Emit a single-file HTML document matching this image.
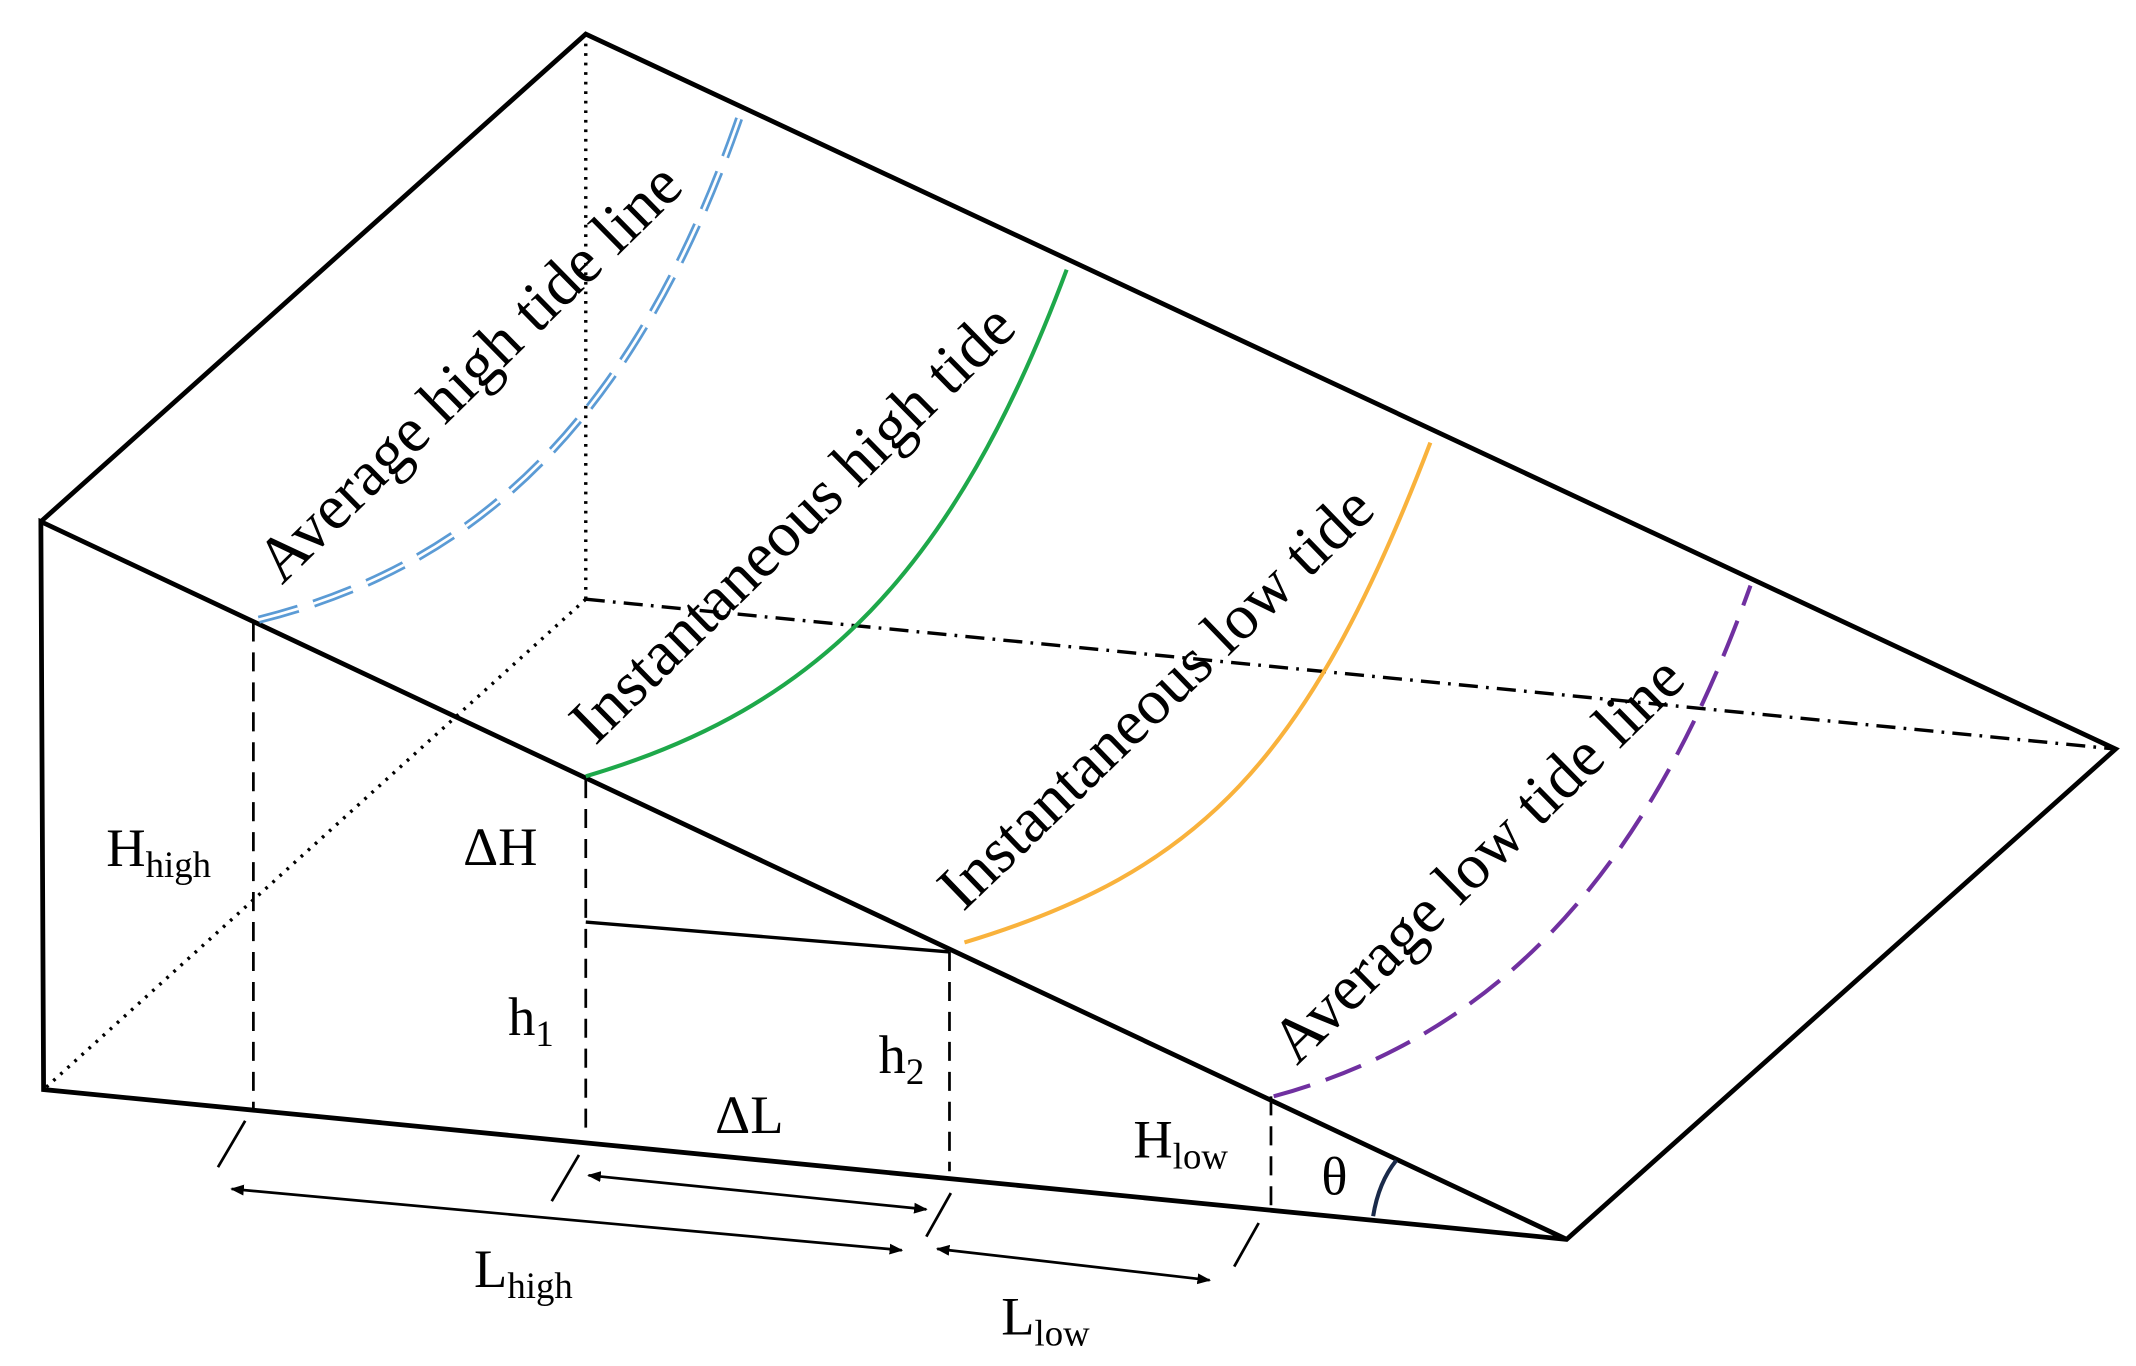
<!DOCTYPE html>
<html><head><meta charset="utf-8"><style>html,body{margin:0;padding:0;background:#fff}svg{display:block}</style></head><body>
<svg width="2136" height="1366" viewBox="0 0 1568 1003" preserveAspectRatio="none" xmlns="http://www.w3.org/2000/svg">
<defs>
<marker id="a" markerWidth="10" markerHeight="8" refX="9" refY="4" orient="auto-start-reverse" markerUnits="userSpaceOnUse"><path d="M0,0 L10,4 L0,8 z" fill="#000"/></marker>
</defs>
<rect width="1568" height="1003" fill="#fff"/>
<g stroke="#000" fill="none" stroke-width="2.5">
<path d="M430,25 L430,440" stroke-dasharray="2,5" stroke-width="2.5"/>
<path d="M430,440 L32,800" stroke-dasharray="2,5" stroke-width="2.5"/>
<path d="M430,440 L1553,550" stroke-dasharray="14,6,2,6" stroke-width="2.5"/>
<path d="M30,383 L430,25 L1553,550 L1150,910 L32,800 L30,383 L1150,910" stroke-width="3.5"/>
<path d="M430,677 L697,699"/>
<g stroke-dasharray="14,8" stroke-width="2">
<path d="M186,457 L186,815"/>
<path d="M430,572 L430,835"/>
<path d="M697,699 L697,860"/>
<path d="M933,805 L933,890"/>
</g>
<g stroke-width="2">
<path d="M160,857 L180,823"/><path d="M405,882 L425,848"/><path d="M680,908 L698,876"/><path d="M906,930 L924,898"/>
<path d="M170,873 L662,918" marker-start="url(#a)" marker-end="url(#a)"/>
<path d="M432,863 L680,888" marker-start="url(#a)" marker-end="url(#a)"/>
<path d="M688,917 L888,940" marker-start="url(#a)" marker-end="url(#a)"/>
</g>
<path d="M1008,893 Q1012,868 1025,852" stroke="#1a2a4a" stroke-width="3"/>
</g>
<g fill="none" stroke-width="3">
<path d="M190,455 C330,420 460,330 545,80" stroke="#5b9bd5" stroke-width="6" stroke-dasharray="30,12"/>
<path d="M190,455 C330,420 460,330 545,80" stroke="#fff" stroke-width="2" stroke-dasharray="30,12"/>
<path d="M430,570 C600,520 700,420 783,198" stroke="#1ea84a"/>
<path d="M708,692 C880,640 960,560 1050,325" stroke="#f9b23c"/>
<path d="M935,805 C1100,760 1210,640 1285,430" stroke="#7030a0" stroke-dasharray="28,12"/>
</g>
<g font-family="Liberation Serif, serif" font-size="40" fill="#000">
<text font-size="47" transform="translate(207,430) rotate(-44.5)">Average high tide line</text>
<text font-size="47" transform="translate(437,548) rotate(-44.5)">Instantaneous high tide</text>
<text font-size="47" transform="translate(707,670) rotate(-44)">Instantaneous low tide</text>
<text font-size="47" transform="translate(952,783) rotate(-44.5)">Average low tide line</text>
<text x="78" y="636">H<tspan font-size="27" dy="8">high</tspan></text>
<text x="340" y="635">ΔH</text>
<text x="373" y="760">h<tspan font-size="27" dy="8">1</tspan></text>
<text x="645" y="788">h<tspan font-size="27" dy="8">2</tspan></text>
<text x="525" y="832">ΔL</text>
<text x="832" y="850">H<tspan font-size="27" dy="8">low</tspan></text>
<text x="970" y="877">θ</text>
<text x="348" y="945">L<tspan font-size="27" dy="8">high</tspan></text>
<text x="735" y="980">L<tspan font-size="27" dy="8">low</tspan></text>
</g>
</svg>
</body></html>
